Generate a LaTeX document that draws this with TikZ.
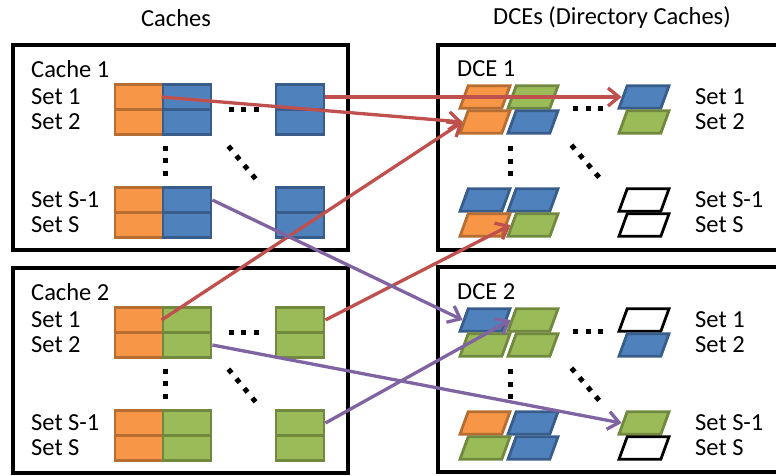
\documentclass[tikz,border=0pt]{standalone}
\usepackage{fontspec}
\setmainfont{Carlito}
\usetikzlibrary{shapes.geometric,arrows.meta}

\definecolor{orgfill}{HTML}{F79646}
\definecolor{orgline}{HTML}{B66D31}
\definecolor{blufill}{HTML}{4F81BD}
\definecolor{bluline}{HTML}{385D8A}
\definecolor{grnfill}{HTML}{9BBB59}
\definecolor{grnline}{HTML}{71893F}
\definecolor{redlink}{HTML}{C0504D}
\definecolor{purlink}{HTML}{8064A2}

\tikzset{
  box/.style={draw=black, line width=3.4pt},
  cell/.style={rectangle, line width=2.8pt, minimum width=48pt, minimum height=25pt, inner sep=0pt},
  slot/.style={trapezium, trapezium left angle=70, trapezium right angle=110,
    line width=2.8pt, inner xsep=16.8pt, inner ysep=11.3pt},
  org/.style={fill=orgfill, draw=orgline},
  blu/.style={fill=blufill, draw=bluline},
  grn/.style={fill=grnfill, draw=grnline},
  emp/.style={fill=white, draw=black},
  txt/.style={anchor=west, inner sep=0pt},
  dotline/.style={line width=5pt, dash pattern=on 5pt off 7.5pt},
  link/.style={line width=3.3pt, -{Straight Barb[length=11pt,width=18pt]}}
}

\begin{document}
\begin{tikzpicture}[x=1pt,y=-1pt]
                        \useasboundingbox (0,0) rectangle (776,475);
                        \clip (0,0) rectangle (776,475);
                        {\fontsize{24.5}{26}\selectfont

                        % Titles
                        \node (ttlc) at (176,18) {Caches};
                        \node (ttld) at (612,18) {DCEs (Directory Caches)};

                        % Drawing boxes
                        \draw [box] (13,45) rectangle (348,250);%
                        \draw [box] (13,268) rectangle (348,473);%
                        \draw [box] (438,45) rectangle (800,250);%
                        \draw [box] (438,267) rectangle (800,472);%

                        % Marking cache 1
                        \node [txt] (c1name) at (31,69) {Cache 1};
                        \node [txt] (c1set1) at (31,97) {Set 1};
                        \node [txt] (c1set2) at (31,122) {Set 2};
                        \node [txt] (c1set3) at (31,200) {Set S-1};
                        \node [txt] (c1set4) at (31,225) {Set S};

                        % Drawing cache 1 lines
                        \node [cell,org] (c1r1a) at (139,97) {};
                        \node [cell,blu] (c1r1b) at (187,97) {};
                        \node [cell,blu] (c1r1z) at (300,97) {};
                        \node [cell,org] (c1r2a) at (139,122) {};
                        \node [cell,blu] (c1r2b) at (187,122) {};
                        \node [cell,blu] (c1r2z) at (300,122) {};
                        \node [cell,org] (c1r3a) at (139,200) {};
                        \node [cell,blu] (c1r3b) at (187,200) {};
                        \node [cell,blu] (c1r3z) at (300,200) {};
                        \node [cell,org] (c1r4a) at (139,225) {};
                        \node [cell,blu] (c1r4b) at (187,225) {};
                        \node [cell,blu] (c1r4z) at (300,225) {};

                        % Marking cache 2
                        \node [txt] (c2name) at (31,292) {Cache 2};
                        \node [txt] (c2set1) at (31,320) {Set 1};
                        \node [txt] (c2set2) at (31,345) {Set 2};
                        \node [txt] (c2set3) at (31,423) {Set S-1};
                        \node [txt] (c2set4) at (31,448) {Set S};

                        % Drawing cache 2 lines
                        \node [cell,org] (c2r1a) at (139,320) {};
                        \node [cell,grn] (c2r1b) at (187,320) {};
                        \node [cell,grn] (c2r1z) at (300,320) {};
                        \node [cell,org] (c2r2a) at (139,345) {};
                        \node [cell,grn] (c2r2b) at (187,345) {};
                        \node [cell,grn] (c2r2z) at (300,345) {};
                        \node [cell,org] (c2r3a) at (139,423) {};
                        \node [cell,grn] (c2r3b) at (187,423) {};
                        \node [cell,grn] (c2r3z) at (300,423) {};
                        \node [cell,org] (c2r4a) at (139,448) {};
                        \node [cell,grn] (c2r4b) at (187,448) {};
                        \node [cell,grn] (c2r4z) at (300,448) {};

                        % Marking DCE 1
                        \node [txt] (d1name) at (457,69) {DCE 1};
                        \node [txt] (d1set1) at (695,97) {Set 1};
                        \node [txt] (d1set2) at (695,122) {Set 2};
                        \node [txt] (d1set3) at (695,200) {Set S-1};
                        \node [txt] (d1set4) at (695,225) {Set S};

                        % Drawing DCE 1 entries
                        \node [slot,org] (d1r1a) at (485,97) {};
                        \node [slot,grn] (d1r1b) at (533,97) {};
                        \node [slot,blu] (d1r1z) at (644,97) {};
                        \node [slot,org] (d1r2a) at (485,122) {};
                        \node [slot,blu] (d1r2b) at (533,122) {};
                        \node [slot,grn] (d1r2z) at (644,122) {};
                        \node [slot,blu] (d1r3a) at (485,200) {};
                        \node [slot,blu] (d1r3b) at (533,200) {};
                        \node [slot,emp] (d1r3z) at (644,200) {};
                        \node [slot,org] (d1r4a) at (485,225) {};
                        \node [slot,grn] (d1r4b) at (533,225) {};
                        \node [slot,emp] (d1r4z) at (644,225) {};

                        % Marking DCE 2
                        \node [txt] (d2name) at (457,292) {DCE 2};
                        \node [txt] (d2set1) at (695,320) {Set 1};
                        \node [txt] (d2set2) at (695,345) {Set 2};
                        \node [txt] (d2set3) at (695,423) {Set S-1};
                        \node [txt] (d2set4) at (695,448) {Set S};

                        % Drawing DCE 2 entries
                        \node [slot,blu] (d2r1a) at (485,320) {};
                        \node [slot,grn] (d2r1b) at (533,320) {};
                        \node [slot,emp] (d2r1z) at (644,320) {};
                        \node [slot,grn] (d2r2a) at (485,345) {};
                        \node [slot,grn] (d2r2b) at (533,345) {};
                        \node [slot,blu] (d2r2z) at (644,345) {};
                        \node [slot,org] (d2r3a) at (485,423) {};
                        \node [slot,blu] (d2r3b) at (533,423) {};
                        \node [slot,grn] (d2r3z) at (644,423) {};
                        \node [slot,grn] (d2r4a) at (485,448) {};
                        \node [slot,blu] (d2r4b) at (533,448) {};
                        \node [slot,emp] (d2r4z) at (644,448) {};

                        % Drawing dots
                        \draw [dotline] (228.5,109) -- (258.5,109);%
                        \draw [dotline] (165,145.5) -- (165,175.5);%
                        \draw [dotline] (228.4,146.1) -- (255.6,178.9);%
                        \draw [dotline] (228.5,332) -- (258.5,332);%
                        \draw [dotline] (165,368.5) -- (165,398.5);%
                        \draw [dotline] (228.4,369.1) -- (255.6,401.9);%
                        \draw [dotline] (573,108) -- (603,108);%
                        \draw [dotline] (510,146) -- (510,176);%
                        \draw [dotline] (571.4,145.1) -- (599.6,177.9);%
                        \draw [dotline] (573,331) -- (603,331);%
                        \draw [dotline] (510,369) -- (510,399);%
                        \draw [dotline] (571.4,368.1) -- (599.6,400.9);%

                        % Drawing red links
                        \draw [link,redlink] (c1r1b.west) -- (d1r2a.left side);%
                        \draw [link,redlink] (c1r1z.east) -- (d1r1z.left side);%
                        \draw [link,redlink] (c2r1b.west) -- (d1r2a.left side);%
                        \draw [link,redlink] (c2r1z.east) -- (d1r4b.left side);%

                        % Drawing purple links
                        \draw [link,purlink] (c1r3b.east) -- (d2r1a.left side);%
                        \draw [link,purlink] (c2r2b.east) -- (d2r3z.left side);%
                        \draw [link,purlink] (c2r3z.east) -- (d2r1b.left side);%
                        }
\end{tikzpicture}
\end{document}
